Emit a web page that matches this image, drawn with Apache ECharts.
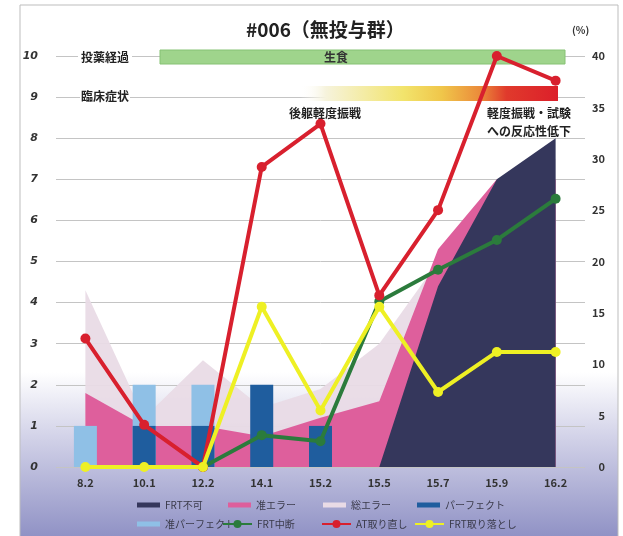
<!DOCTYPE html>
<html>
<head>
<meta charset="utf-8">
<script src="https://cdn.jsdelivr.net/npm/echarts@6/dist/echarts.min.js"></script>
<style>
  html, body { margin: 0; padding: 0; background: #fff; }
  #main { width: 623px; height: 536px; }
</style>
</head>
<body>
<div id="main"></div>
<script>
// 時点
const categories = ['8.2', '10.1', '12.2', '14.1', '15.2', '15.5', '15.7', '15.9', '16.2'];

// 左軸 (回数)
const frtFuka = [0, 0, 0, 0, 0, 0, 4.4, 7.0, 8.0];
const junError = [1.8, 1.0, 1.0, 0.75, 1.2, 1.6, 5.3, 7.0, 7.0];
const souError = [4.3, 1.2, 2.6, 1.45, 1.9, 3.0, 5.0, 7.0, 7.5];
const perfect = [0, 1, 1, 2, 1, 0, 0, 0, 0];
const junPerfect = [1, 2, 2, 0, 0, 0, 0, 0, 0];

// 右軸 (%)
const frtStop = [null, null, 0, 3.1, 2.5, 16.1, 19.2, 22.1, 26.1];
const atRetake = [12.5, 4.1, 0, 29.2, 33.4, 16.7, 25.0, 40.0, 37.6];
const frtDrop = [0, 0, 0, 15.6, 5.5, 15.6, 7.3, 11.2, 11.2];

const leftTicks = [0, 10, 1];
const rightTicks = [0, 40, 5];

const seriesNames = ['FRT不可', '准エラー', '総エラー', 'パーフェクト', '准パーフェクト', 'FRT中断', 'AT取り直し', 'FRT取り落とし'];

const jpFont = 'Noto Sans CJK JP';
const chart = echarts.init(document.getElementById('main'));

const areaSeries = (name, data, color, z, opacity) => ({
    name: name,
    type: 'line',
    data: data,
    symbol: 'none',
    lineStyle: {width: 0},
    itemStyle: {color: color},
    areaStyle: {color: color, opacity: opacity},
    z: z
});

const lineSeries = (name, data, color, z) => ({
    name: name,
    type: 'line',
    yAxisIndex: 1,
    data: data,
    symbol: 'circle',
    symbolSize: 10,
    lineStyle: {width: 4, color: color},
    itemStyle: {color: color},
    z: z
});

// 凡例 (2段)
const legendPos = [
    [137, 500], [228, 500], [323, 500], [417, 500],
    [137, 519], [222, 519], [321, 519], [414, 519]
];
const legends = seriesNames.map((n, i) => ({
    data: [{name: n, icon: i < 5 ? 'rect' : undefined}],
    left: legendPos[i][0],
    top: legendPos[i][1],
    itemWidth: i < 5 ? 23 : 29,
    itemHeight: i < 5 ? 5 : 10,
    itemGap: 0,
    padding: 0,
    selectedMode: false,
    textStyle: {fontSize: 10, color: '#3a3a4a', fontFamily: jpFont}
}));

const option = {
    backgroundColor: '#fff',
    animation: false,
    title: {
        text: '#006（無投与群）',
        left: 241,
        top: 15,
        textStyle: {fontSize: 19, fontWeight: 'bold', color: '#222', fontFamily: jpFont}
    },
    legend: legends,
    grid: {left: 56, right: 38, top: 56, bottom: 69},
    xAxis: {
        type: 'category',
        data: categories,
        axisLine: {show: false},
        axisTick: {show: false},
        axisLabel: {margin: 10, fontSize: 11, fontWeight: 'bold', color: '#333', fontFamily: jpFont}
    },
    yAxis: [{
        type: 'value',
        min: leftTicks[0], max: leftTicks[1], interval: leftTicks[2],
        axisLabel: {margin: 18, fontSize: 11, fontStyle: 'italic', fontWeight: 'bold', color: '#333', fontFamily: 'DejaVu Sans'},
        splitLine: {lineStyle: {color: '#c4c4c4', width: 1}}
    }, {
        type: 'value',
        min: rightTicks[0], max: rightTicks[1], interval: rightTicks[2],
        axisLabel: {margin: 20, align: 'right', fontSize: 11, fontWeight: 'bold', color: '#333', fontFamily: jpFont},
        splitLine: {show: false}
    }],
    graphic: [
        // 背景
        {
            type: 'rect', z: -10,
            shape: {x: 20, y: 5, width: 598, height: 540},
            style: {
                stroke: '#bdbdbd', lineWidth: 1,
                fill: {type: 'linear', x: 0, y: 0, x2: 0, y2: 1, colorStops: [
                    {offset: 0, color: '#ffffff'},
                    {offset: 0.68, color: '#ffffff'},
                    {offset: 0.8, color: '#d2d2e8'},
                    {offset: 1, color: '#8a8cc2'}
                ]}
            }
        },
        // 投薬経過
        {
            type: 'rect', z: 1,
            shape: {x: 160, y: 50, width: 405, height: 14},
            style: {fill: '#9fd48c', stroke: '#86c274', lineWidth: 1}
        },
        {
            type: 'text', z: 1, x: 336, y: 57,
            style: {text: '生食', fill: '#333', align: 'center', verticalAlign: 'middle', font: 'bold 12px "Noto Sans CJK JP"'}
        },
        {
            type: 'text', z: 1, x: 78, y: 57,
            style: {text: '投薬経過', fill: '#222', verticalAlign: 'middle', backgroundColor: '#fff', padding: [0, 3], font: 'bold 12px "Noto Sans CJK JP"'}
        },
        // 臨床症状
        {
            type: 'rect', z: 1,
            shape: {x: 300, y: 86, width: 258, height: 15},
            style: {
                fill: {type: 'linear', x: 0, y: 0, x2: 1, y2: 0, colorStops: [
                    {offset: 0, color: 'rgba(255,255,255,0)'},
                    {offset: 0.1, color: '#f6f3dc'},
                    {offset: 0.4, color: '#f2e46c'},
                    {offset: 0.55, color: '#f0c64a'},
                    {offset: 0.7, color: '#eb8a3a'},
                    {offset: 0.8, color: '#e03a2c'},
                    {offset: 1, color: '#dc1f2a'}
                ]}
            }
        },
        {
            type: 'text', z: 1, x: 80, y: 96,
            style: {text: '臨床症状', fill: '#222', verticalAlign: 'middle', backgroundColor: '#fff', padding: [0, 1], font: 'bold 12px "Noto Sans CJK JP"'}
        },
        {
            type: 'text', z: 1, x: 325, y: 113,
            style: {text: '後躯軽度振戦', fill: '#222', align: 'center', verticalAlign: 'middle', font: 'bold 12px "Noto Sans CJK JP"'}
        },
        {
            type: 'text', z: 1, x: 487, y: 113,
            style: {text: '軽度振戦・試験', fill: '#222', verticalAlign: 'middle', font: 'bold 12px "Noto Sans CJK JP"'}
        },
        {
            type: 'text', z: 1, x: 487, y: 131,
            style: {text: 'への反応性低下', fill: '#222', verticalAlign: 'middle', font: 'bold 12px "Noto Sans CJK JP"'}
        },
        {
            type: 'text', z: 1, x: 572, y: 30,
            style: {text: '(%)', fill: '#333', verticalAlign: 'middle', font: 'bold 10px "Noto Sans CJK JP"'}
        }
    ],
    series: [
        areaSeries('FRT不可', frtFuka, '#35375c', 4, 1),
        areaSeries('准エラー', junError, '#de5f9c', 3, 1),
        areaSeries('総エラー', souError, '#e9dbe6', 2, 0.95),
        {
            name: 'パーフェクト', type: 'bar', data: perfect,
            barWidth: 23, barGap: '-100%',
            itemStyle: {color: '#1f5d9e'}, z: 6
        },
        {
            name: '准パーフェクト', type: 'bar', data: junPerfect,
            barWidth: 23, barGap: '-100%',
            itemStyle: {color: '#8fc0e6'}, z: 5
        },
        lineSeries('FRT中断', frtStop, '#2b7b3c', 7),
        lineSeries('AT取り直し', atRetake, '#d8202e', 8),
        lineSeries('FRT取り落とし', frtDrop, '#eef024', 9)
    ]
};

chart.setOption(option);
</script>
</body>
</html>
